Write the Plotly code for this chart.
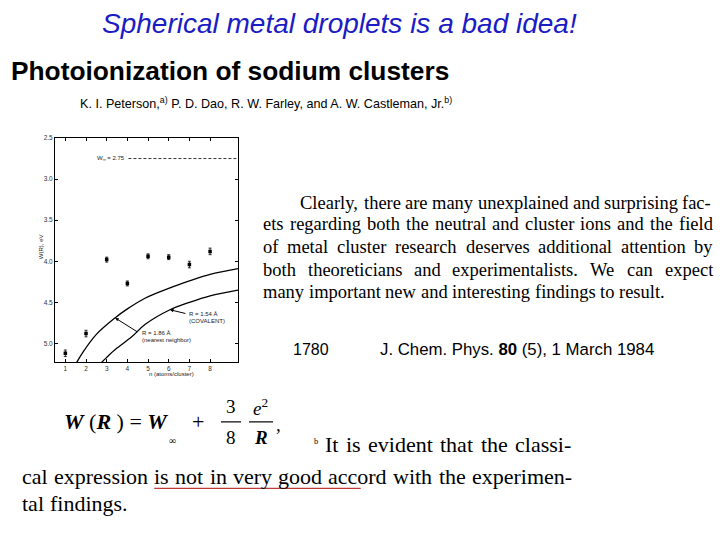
import plotly.graph_objects as go

# ---------------- data ----------------
n_atoms = [1, 2, 3, 4, 5, 6, 7, 8]
w_meas = [5.12, 4.88, 3.98, 4.27, 3.94, 3.95, 4.04, 3.88]
w_err = [0.04, 0.04, 0.03, 0.03, 0.03, 0.03, 0.04, 0.04]

nn_curve_n = [1.55, 1.87, 2.5, 3.4, 4.0, 4.85, 6.0, 7.0, 8.0, 9.35]   # R = 1.86 A
nn_curve_w = [5.23, 5.10, 4.89, 4.69, 4.58, 4.45, 4.33, 4.24, 4.16, 4.09]

cov_curve_n = [2.76, 3.0, 3.48, 4.21, 4.85, 6.06, 7.0, 8.0, 9.35]    # R = 1.54 A
cov_curve_w = [5.23, 5.17, 5.06, 4.92, 4.77, 4.59, 4.50, 4.42, 4.35]

w_inf_n = [4.05, 9.35]
w_inf_w = [2.75, 2.75]

x_ticks = [1, 2, 3, 4, 5, 6, 7, 8]
y_ticks = [2.5, 3.0, 3.5, 4.0, 4.5, 5.0]
y_tick_text = ["2.5", "3.0", "3.5", "4.0", "4.5", "5.0"]

W, H = 720, 540
def PX(x):
    return x / W
def PY(y):
    return 1 - y / H

SANS = "Liberation Sans"
SERIF = "Liberation Serif"

fig = go.Figure()

fig.add_trace(go.Scatter(x=nn_curve_n, y=nn_curve_w, mode="lines",
                         line=dict(color="black", width=1.3, shape="spline"),
                         showlegend=False, hoverinfo="skip"))
fig.add_trace(go.Scatter(x=cov_curve_n, y=cov_curve_w, mode="lines",
                         line=dict(color="black", width=1.3, shape="spline"),
                         showlegend=False, hoverinfo="skip"))
fig.add_trace(go.Scatter(x=w_inf_n, y=w_inf_w, mode="lines",
                         line=dict(color="#333", width=1, dash="3px,2px"),
                         showlegend=False, hoverinfo="skip"))
fig.add_trace(go.Scatter(x=n_atoms, y=w_meas, mode="markers",
                         marker=dict(symbol="square", size=3.5, color="black"),
                         error_y=dict(type="data", array=w_err, color="black",
                                      thickness=0.8, width=1.5),
                         showlegend=False))

axis_common = dict(showline=True, linecolor="black", linewidth=1, mirror="ticks",
                   ticks="inside", ticklen=3, tickcolor="black", showgrid=False,
                   zeroline=False, tickfont=dict(family=SANS, size=6.5, color="#333"))

fig.update_layout(
    width=W, height=H,
    margin=dict(l=0, r=0, t=0, b=0),
    paper_bgcolor="white", plot_bgcolor="white",
    xaxis=dict(domain=[PX(55), PX(238)], range=[0.5, 9.35],
               tickvals=x_ticks, **axis_common),
    yaxis=dict(domain=[PY(361), PY(135)], range=[5.23, 2.5],
               tickvals=y_ticks, ticktext=y_tick_text, **axis_common),
)

ann = []
def txt(x, y, text, size, family=SANS, color="black", xanchor="left", **kw):
    ann.append(dict(x=PX(x), y=PY(y), xref="paper", yref="paper", text=text,
                    showarrow=False, xanchor=xanchor, yanchor="middle",
                    borderpad=0, borderwidth=0,
                    font=dict(family=family, size=size, color=color), **kw))

# Times-compatible advance widths (per 1000 em) for justified layout
TW = {' ': 250, 'a': 444, 'b': 500, 'c': 444, 'd': 500, 'e': 444, 'f': 333, 'g': 500,
      'h': 500, 'i': 278, 'j': 278, 'k': 500, 'l': 278, 'm': 778, 'n': 500, 'o': 500,
      'p': 500, 'q': 500, 'r': 333, 's': 389, 't': 278, 'u': 500, 'v': 500, 'w': 722,
      'x': 500, 'y': 500, 'z': 444, ',': 250, '.': 250, '-': 333, 'C': 667, 'W': 944,
      'I': 333, 'T': 611}
def wwidth(word, size):
    return sum(TW.get(c, 500) for c in word) * size / 1000.0

def line(words, x0, x1, y, size, justify=True):
    widths = [wwidth(w, size) for w in words]
    if justify and len(words) > 1:
        gap = (x1 - x0 - sum(widths)) / (len(words) - 1)
    else:
        gap = 0.25 * size
    pos = []
    x = x0
    for w, wd in zip(words, widths):
        txt(x, y, w, size, family=SERIF)
        pos.append((x, wd))
        x += wd + gap
    return pos

# --- in-chart labels ---
small = dict(family=SANS, size=6, color="#222")
ann.append(dict(x=4.0, y=2.75, xref="x", yref="y", text="W<sub>∞</sub> = 2.75",
                showarrow=False, xanchor="right", yanchor="middle", font=small))
ann.append(dict(x=6.9, y=4.64, xref="x", yref="y", text="R = 1.54 Å",
                showarrow=False, xanchor="left", yanchor="middle", font=small))
ann.append(dict(x=6.9, y=4.73, xref="x", yref="y", text="(COVALENT)",
                showarrow=False, xanchor="left", yanchor="middle", font=small))
ann.append(dict(x=4.6, y=4.87, xref="x", yref="y", text="R = 1.86 Å",
                showarrow=False, xanchor="left", yanchor="middle", font=small))
ann.append(dict(x=4.6, y=4.96, xref="x", yref="y", text="(nearest neighbor)",
                showarrow=False, xanchor="left", yanchor="middle", font=small))
ann.append(dict(x=6.06, y=4.59, xref="x", yref="y", ax=6.88, ay=4.64,
                axref="x", ayref="y", text="", showarrow=True, arrowhead=2,
                arrowsize=0.7, arrowwidth=1, arrowcolor="black"))
ann.append(dict(x=3.41, y=4.69, xref="x", yref="y", ax=4.55, ay=4.87,
                axref="x", ayref="y", text="", showarrow=True, arrowhead=2,
                arrowsize=0.7, arrowwidth=1, arrowcolor="black"))
ann.append(dict(x=PX(36), y=PY(245), xref="paper", yref="paper", text="W(R), eV",
                showarrow=False, textangle=-90, font=small))
ann.append(dict(x=PX(147), y=PY(378), xref="paper", yref="paper",
                text="n (atoms/cluster)", showarrow=False, font=small))

# --- slide texts ---
txt(339, 20, "<i>Spherical metal droplets is a bad idea!</i>", 28, color="#1c1cc4",
    xanchor="center")
txt(11, 68, "<b>Photoionization of sodium clusters</b>", 26.3)
txt(80, 100, "K. I. Peterson,<sup>a)</sup> P. D. Dao, R. W. Farley, and A. W. Castleman, Jr.<sup>b)</sup>",
    12.6)

ps = 18.5
line("Clearly, there are many unexplained and surprising fac-".split(), 300, 711, 200, ps)
line("ets regarding both the neutral and cluster ions and the field".split(), 263, 713, 222, ps)
line("of metal cluster research deserves additional attention by".split(), 263, 713, 245, ps)
line("both theoreticians and experimentalists. We can expect".split(), 263, 713, 268, ps)
line("many important new and interesting findings to result.".split(), 263, 713, 290, ps,
     justify=False)

txt(293, 348, "1780", 16)
txt(380, 348, "J. Chem. Phys. <b>80</b> (5), 1 March 1984", 16.8)

# formula
fs = 22
txt(64, 421, "<b><i>W</i></b> (<b><i>R</i></b> ) = <b><i>W</i></b>", fs, family=SERIF)
txt(172, 440, "∞", 10, family=SERIF, xanchor="center")
txt(198, 421, "+", fs, family=SERIF, xanchor="center")
txt(231, 406, "3", 19, family=SERIF, xanchor="center")
txt(231, 437, "8", 19, family=SERIF, xanchor="center")
txt(260, 406, "<i>e</i><sup>2</sup>", 19, family=SERIF, xanchor="center")
txt(261, 437, "<b><i>R</i></b>", 19, family=SERIF, xanchor="center")
txt(276, 424, ",", 19, family=SERIF)

bs = 22
txt(314, 441, "<sup>b</sup>", 12, family=SERIF)
line("It is evident that the classi-".split(), 325, 571, 444, bs)
pos2 = line("cal expression is not in very good accord with the experimen-".split(),
            22, 572, 476, bs)
line("tal findings.".split(), 22, 572, 503, bs, justify=False)

fig.update_layout(annotations=ann)

ul_x0 = pos2[2][0]
ul_x1 = pos2[7][0] + 0.55 * pos2[7][1]
shapes = [
    dict(type="line", xref="paper", yref="paper", x0=PX(221), x1=PX(241),
         y0=PY(421), y1=PY(421), line=dict(color="black", width=1.2)),
    dict(type="line", xref="paper", yref="paper", x0=PX(249), x1=PX(273),
         y0=PY(421), y1=PY(421), line=dict(color="black", width=1.2)),
    dict(type="line", xref="paper", yref="paper", x0=PX(ul_x0), x1=PX(ul_x1),
         y0=PY(488), y1=PY(488), line=dict(color="#c23b3b", width=1.2)),
]
fig.update_layout(shapes=shapes)

fig.write_html("out.html", config={"displayModeBar": False},
               post_script="document.body.style.margin='0';document.body.style.padding='0';")
